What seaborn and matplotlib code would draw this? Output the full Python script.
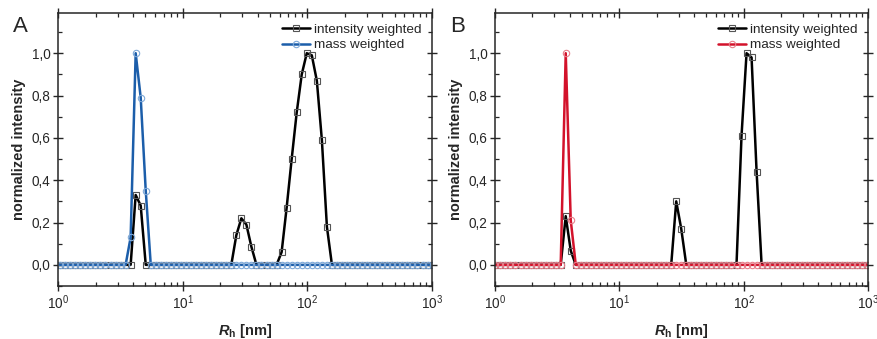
import numpy as np
import pandas as pd
import matplotlib
matplotlib.use("Agg")
import matplotlib.pyplot as plt
import matplotlib.ticker as mticker
import seaborn as sns

# Bin grid (log10 of R_h in nm) for each measurement
step = 0.0404
a_log_start, a_bins = 0.621, range(-16, 60)
b_log_start, b_bins = 0.569, range(-15, 61)

# Non-zero values: {first bin index: [values...]}, all other bins are 0
a_int_peaks = {0: [0.33, 0.28],
               20: [0.14, 0.22, 0.19, 0.085],
               29: [0.06, 0.27, 0.50, 0.72, 0.90, 1.00, 0.99, 0.87, 0.59, 0.18]}
a_mass_peaks = {-1: [0.13, 1.00, 0.79, 0.35]}
b_int_peaks = {0: [0.23, 0.067],
               22: [0.30, 0.17],
               35: [0.61, 1.00, 0.98, 0.44]}
b_mass_peaks = {0: [1.00, 0.21]}

yticks = [0.0, 0.2, 0.4, 0.6, 0.8, 1.0]


def build(log_start, bins, peaks):
    bins = list(bins)
    rh = [10 ** (log_start + k * step) for k in bins]
    val = [0.0] * len(bins)
    for k0, vals in peaks.items():
        for i, v in enumerate(vals):
            val[bins.index(k0 + i)] = v
    return pd.DataFrame({"Rh": rh, "val": val})


sns.set_style("ticks")
plt.rcParams["font.family"] = ["Liberation Sans", "DejaVu Sans"]
plt.rcParams["mathtext.fontset"] = "custom"
plt.rcParams["mathtext.it"] = "Liberation Sans:italic:bold"
plt.rcParams["mathtext.rm"] = "Liberation Sans:bold"

fig = plt.figure(figsize=(8.77, 3.39), dpi=100)
ax_a = fig.add_axes([0.0665, 0.1563, 0.4261, 0.8054])
ax_b = fig.add_axes([0.5644, 0.1563, 0.4253, 0.8054])

panels = [
    (ax_a, "A", build(a_log_start, a_bins, a_int_peaks), build(a_log_start, a_bins, a_mass_peaks),
     "#1c5eaa", "#7fa9d8"),
    (ax_b, "B", build(b_log_start, b_bins, b_int_peaks), build(b_log_start, b_bins, b_mass_peaks),
     "#d3122b", "#e8808c"),
]

for ax, letter, df_int, df_mass, col, mcol in panels:
    sns.lineplot(data=df_int, x="Rh", y="val", ax=ax, color="black", lw=1.8,
                 marker="s", ms=4, mfc="none", mec="#555555", mew=0.8,
                 label="intensity weighted")
    sns.lineplot(data=df_mass, x="Rh", y="val", ax=ax, color=col, lw=1.8,
                 marker="o", ms=4.6, mfc="none", mec=mcol, mew=0.8,
                 label="mass weighted")

    ax.set_xscale("log")
    ax.set_xlim(1, 1000)
    ax.set_ylim(-0.1, 1.19)
    ax.set_yticks(yticks)
    ax.yaxis.set_minor_locator(mticker.MultipleLocator(0.1))
    ax.yaxis.set_major_formatter(mticker.FuncFormatter(lambda v, p: f"{v:.1f}".replace(".", ",")))
    ax.xaxis.set_major_locator(mticker.LogLocator(base=10, numticks=10))
    ax.xaxis.set_minor_locator(mticker.LogLocator(base=10, subs=np.arange(2, 10), numticks=10))
    ax.xaxis.set_minor_formatter(mticker.NullFormatter())

    for s in ax.spines.values():
        s.set_visible(True)
        s.set_linewidth(1.1)
    ax.tick_params(which="major", direction="inout", length=7, width=1.0,
                   top=True, right=True, labelsize=9.8, pad=2)
    ax.tick_params(which="minor", direction="in", length=3, width=0.9,
                   top=True, right=True)

    ax.set_xlabel(r"$R_{\mathrm{h}}$ [nm]", fontsize=10.5, fontweight="bold", labelpad=7)
    ax.set_ylabel("normalized intensity", fontsize=10.5, fontweight="bold", labelpad=4)

    ax.legend(loc="upper right", frameon=False, fontsize=9.7, handlelength=2.1,
              handletextpad=0.3, labelspacing=0.25, borderaxespad=0.55,
              borderpad=0.2)

    ax.text(-0.121, 0.99, letter, transform=ax.transAxes, fontsize=16,
            ha="left", va="top")

fig.savefig("out.png", dpi=100)
